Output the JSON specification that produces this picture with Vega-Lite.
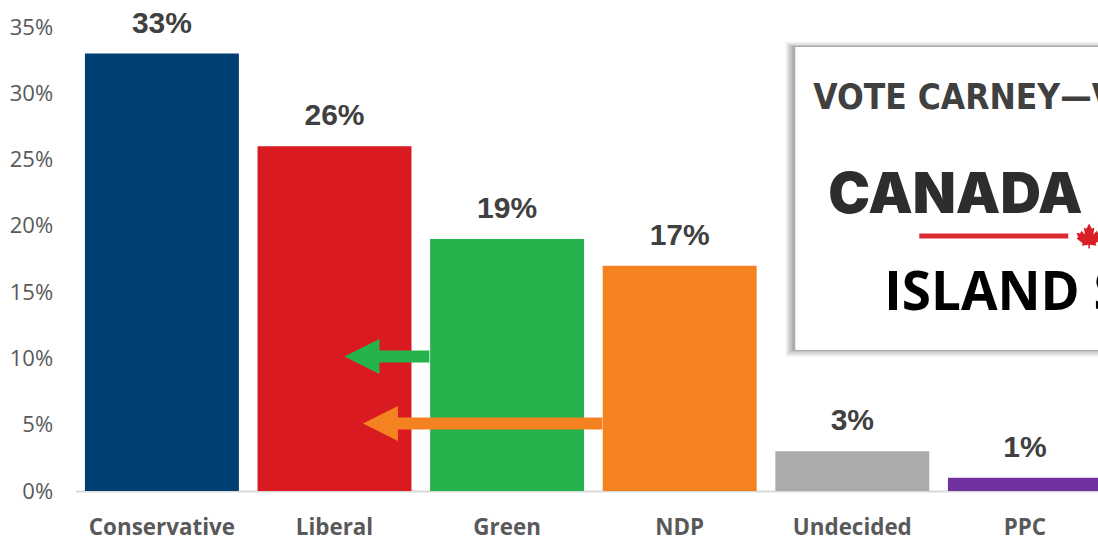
{
"$schema":"https://vega.github.io/schema/vega-lite/v6.json",
"autosize":"none",
"padding":{"left":75.6,"top":27,"right":0,"bottom":45},
"width":1022.4,"height":464,
"background":"white",
"config":{"view":{"stroke":null}},
"resolve":{"scale":{"x":"independent","y":"independent"}},
"layer":[
{"data":{"values":[
{"party":"Conservative","share":0.33},
{"party":"Liberal","share":0.26},
{"party":"Green","share":0.19},
{"party":"NDP","share":0.17},
{"party":"Undecided","share":0.03},
{"party":"PPC","share":0.01}]},
"encoding":{
"x":{"field":"party","type":"nominal","sort":null,"scale":{"range":[0,1035.6],"paddingInner":0.108,"paddingOuter":0.054},
"axis":{"title":null,"labelAngle":0,"ticks":false,"domainColor":"#d9d9d9","domainWidth":2,"labelFont":"Open Sans","labelFontWeight":"bold","labelFontSize":22.4,"labelColor":"#595959","labelPadding":36,"labelBaseline":"middle"}},
"y":{"field":"share","type":"quantitative","scale":{"domain":[0,0.35],"nice":false},
"axis":{"title":null,"values":[0,0.05,0.1,0.15,0.2,0.25,0.3,0.35],"format":".0%","grid":false,"ticks":false,"domain":false,"labelFont":"Open Sans","labelFontSize":22,"labelColor":"#595959","labelPadding":23}}
},
"layer":[
{"mark":{"type":"bar"},
"encoding":{"color":{"field":"party","type":"nominal","legend":null,"scale":{"domain":["Conservative","Liberal","Green","NDP","Undecided","PPC"],"range":["#003f72","#d91a21","#26b34d","#f58220","#ababab","#7030a0"]}}}},
{"mark":{"type":"text","font":"Liberation Sans","fontWeight":"bold","fontSize":30,"color":"#404040","dy":-30,"baseline":"middle"},
"encoding":{"text":{"field":"share","type":"quantitative","format":".0%"}}}
]},
{"encoding":{
"x":{"field":"pos","type":"quantitative","scale":{"domain":[0,6],"range":[0,1035.6],"nice":false,"zero":false},"axis":null},
"y":{"field":"level","type":"quantitative","scale":{"domain":[0,0.35],"nice":false},"axis":null}
},
"layer":[
{"data":{"values":[
{"name":"Green","pos":2.05,"pos2":1.732,"level":0.1015},
{"name":"NDP","pos":3.052,"pos2":1.847,"level":0.0509}]},
"mark":{"type":"rule","strokeWidth":12},
"encoding":{"x2":{"field":"pos2"},"color":{"field":"name","type":"nominal","legend":null,"scale":{"domain":["Green","NDP"],"range":["#26b34d","#f58220"]}}}},
{"data":{"values":[
{"name":"Green","pos":1.659,"level":0.1015},
{"name":"NDP","pos":1.766,"level":0.0509}]},
"mark":{"type":"point","filled":true,"opacity":1,"size":1225,"shape":"M-1,0L1,-1L1,1Z","strokeWidth":0},
"encoding":{"color":{"field":"name","type":"nominal","legend":null,"scale":{"domain":["Green","NDP"],"range":["#26b34d","#f58220"]}}}},
{"data":{"values":[{"pos":4.112,"pos2":6,"level":0.3387,"level2":0.1011}]},
"mark":{"type":"rect","color":"#f2f2f2"},
"encoding":{"x2":{"field":"pos2"},"y2":{"field":"level2"}}},
{"data":{"values":[{"pos":4.123,"pos2":6,"level":0.3376,"level2":0.1026}]},
"mark":{"type":"rect","color":"#dedede"},
"encoding":{"x2":{"field":"pos2"},"y2":{"field":"level2"}}},
{"data":{"values":[{"pos":4.135,"pos2":6,"level":0.3364,"level2":0.1045}]},
"mark":{"type":"rect","color":"#c4c4c4"},
"encoding":{"x2":{"field":"pos2"},"y2":{"field":"level2"}}},
{"data":{"values":[{"pos":4.152,"pos2":6,"level":0.3357,"level2":0.1056}]},
"mark":{"type":"rect","color":"#acacac"},
"encoding":{"x2":{"field":"pos2"},"y2":{"field":"level2"}}},
{"data":{"values":[{"pos":4.17,"pos2":6,"level":0.3349,"level2":0.1064}]},
"mark":{"type":"rect","color":"#ffffff"},
"encoding":{"x2":{"field":"pos2"},"y2":{"field":"level2"}}},
{"data":{"values":[{"pos":4.888,"pos2":5.751,"level":0.1923}]},
"mark":{"type":"rule","strokeWidth":5,"color":"#d92b30"},
"encoding":{"x2":{"field":"pos2"}}},
{"data":{"values":[{"pos":5.872,"level":0.1923}]},
"mark":{"type":"point","filled":true,"opacity":1,"size":625,"color":"#d91f26","strokeWidth":0,
"shape":"M0,-1L0.22,-0.58L0.42,-0.68L0.34,-0.12L0.62,-0.42L0.72,-0.2L1,-0.26L0.88,0.1L1,0.2L0.52,0.58L0.58,0.78L0.06,0.7L0.06,1L-0.06,1L-0.06,0.7L-0.58,0.78L-0.52,0.58L-1,0.2L-0.88,0.1L-1,-0.26L-0.72,-0.2L-0.62,-0.42L-0.34,-0.12L-0.42,-0.68L-0.22,-0.58Z"}},
{"data":{"values":[{"pos":4.274,"level":0.2965,"caption":"VOTE CARNEY—V"}]},
"mark":{"type":"text","align":"left","baseline":"middle","font":"DejaVu Sans Condensed, Liberation Sans","fontWeight":"bold","fontSize":35,"color":"#404040"},
"encoding":{"text":{"field":"caption","type":"nominal"}}},
{"data":{"values":[{"pos":4.361,"level":0.2225,"caption":"CANADA"}]},
"mark":{"type":"text","align":"left","baseline":"middle","font":"Inter","fontWeight":900,"fontSize":56,"color":"#2d2d2d"},
"encoding":{"text":{"field":"caption","type":"nominal"}}},
{"data":{"values":[{"pos":4.685,"level":0.1486,"caption":"ISLAND S"}]},
"mark":{"type":"text","align":"left","baseline":"middle","font":"Open Sans","fontWeight":"bold","fontSize":53,"color":"#000000"},
"encoding":{"text":{"field":"caption","type":"nominal"}}}
]}
]
}
